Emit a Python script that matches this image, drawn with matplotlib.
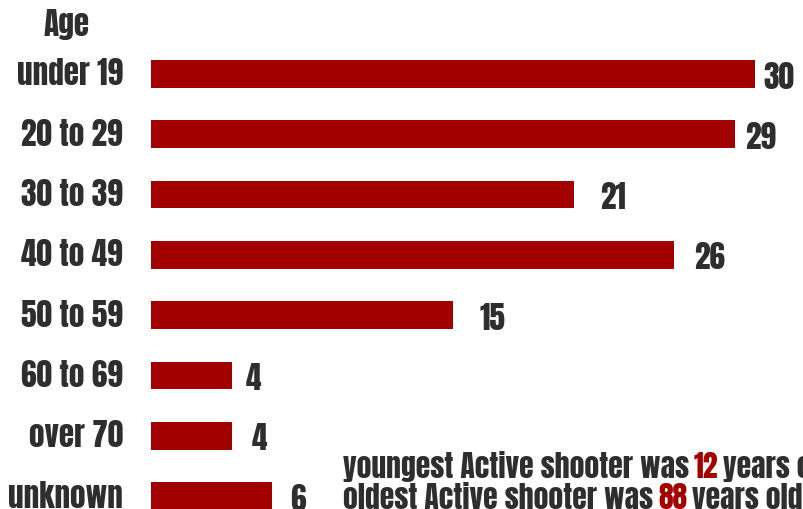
import matplotlib
matplotlib.use("Agg")
import matplotlib.pyplot as plt

# data
age_groups = ["under 19", "20 to 29", "30 to 39", "40 to 49",
              "50 to 59", "60 to 69", "over 70", "unknown"]
shooters = [30, 29, 21, 26, 15, 4, 4, 6]
youngest_age = 12
oldest_age = 88

# label nudges (data units) so the numbers sit like the original
label_dx = [0.4, 0.5, 1.3, 1.0, 1.3, 0.7, 1.0, 0.9]

RED = "#a30000"
INK = "#2e2e2e"

plt.rcParams["font.family"] = ["Anton", "DejaVu Sans"]

fig = plt.figure(figsize=(8.04, 5.09), dpi=100)
ax = fig.add_axes([151 / 804, 0, 653 / 804, 1])
ax.set_xlim(0, 653 / 20.13)
ax.set_ylim((509 - 74) / 60.3, -74 / 60.3)
ax.axis("off")

ypos = list(range(len(age_groups)))
ax.barh(ypos, shooters, height=0.46, color=RED)

for i, (g, v) in enumerate(zip(age_groups, shooters)):
    ax.text(-1.4, i, g, ha="right", va="center", fontsize=22.5, color=INK)
    ax.text(v + label_dx[i], i + 0.05, str(v), ha="left", va="center",
            fontsize=22.5, color=INK)

fig.text(67 / 804, 1 - 25 / 509, "Age", ha="center", va="center",
         fontsize=22.5, color=INK)

# footnote lines with the ages in red
renderer = fig.canvas.get_renderer()


def colored_line(x0, y0, parts):
    x = x0
    for s, c in parts:
        t = fig.text(x, y0, s, ha="left", va="baseline", fontsize=21.3,
                     color=c)
        bb = t.get_window_extent(renderer=renderer)
        x += bb.width / fig.bbox.width + 5 / 804


colored_line(343 / 804, 1 - 478 / 509,
             [("youngest Active shooter was", INK), (str(youngest_age), RED),
              ("years old", INK)])
colored_line(343 / 804, 1 - 509 / 509,
             [("oldest Active shooter was", INK), (str(oldest_age), RED),
              ("years old", INK)])

fig.savefig("out.png", dpi=100)
